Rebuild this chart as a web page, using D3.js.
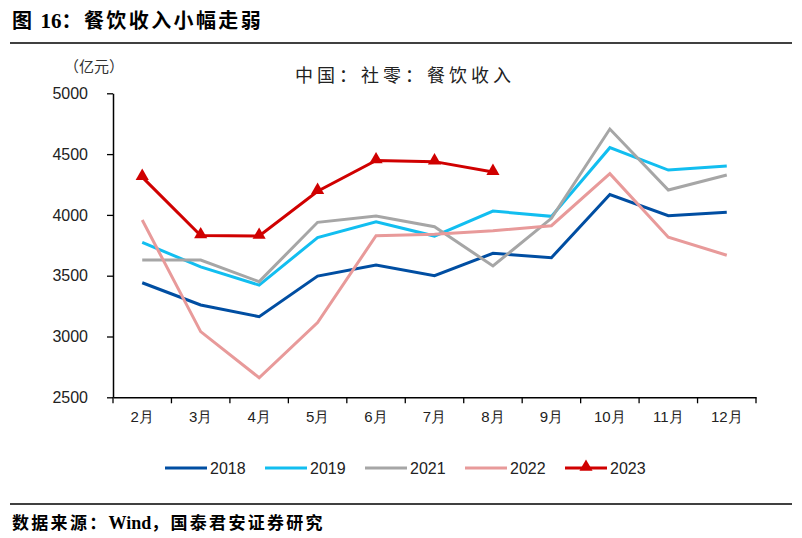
<!DOCTYPE html>
<html><head><meta charset="utf-8">
<script src="https://cdn.jsdelivr.net/npm/d3@7"></script>
<style>body{margin:0;background:#fff}svg{display:block}</style>
</head><body>
<svg id="c" width="802" height="538"></svg>
<script>
const months = ["2月","3月","4月","5月","6月","7月","8月","9月","10月","11月","12月"];
const yTicks = [2500,3000,3500,4000,4500,5000];
const s2018 = [3442,3259,3163,3497,3588,3500,3684,3648,4167,3993,4021];
const s2019 = [3775,3572,3423,3813,3944,3826,4032,3988,4553,4369,4402];
const s2021 = [3629,3629,3451,3939,3991,3903,3580,3972,4706,4205,4328];
const s2022 = [3958,3040,2661,3114,3829,3840,3870,3911,4339,3816,3668];
const s2023 = [4311,3830,3826,4195,4447,4438,4352];
const seriesNames = ["2018","2019","2021","2022","2023"];
const colors = ["#004EA2","#12BEF0","#A6A6A6","#E89A9A","#D00000"];
const series = [s2018,s2019,s2021,s2022,s2023];

const svg = d3.select("#c");
const font = "Liberation Sans, Arial, sans-serif";
const serif = "'Liberation Serif', 'Times New Roman', serif";
const cjk = "'Noto Sans CJK SC', sans-serif";

// header
const ht = svg.append("text").attr("x",12).attr("y",28).attr("font-weight","bold").attr("font-size",20).attr("fill","#000");
ht.append("tspan").attr("font-family",cjk).attr("letter-spacing",2).text("图 ");
ht.append("tspan").attr("font-family",serif).attr("font-size",21).text("16");
ht.append("tspan").attr("font-family",cjk).attr("letter-spacing",2.4).text("：餐饮收入小幅走弱");
svg.append("line").attr("x1",10).attr("x2",792).attr("y1",43).attr("y2",43).attr("stroke","#000").attr("stroke-width",1.3);
svg.append("line").attr("x1",10).attr("x2",792).attr("y1",504).attr("y2",504).attr("stroke","#000").attr("stroke-width",1.3);
const ft = svg.append("text").attr("x",12).attr("y",529).attr("font-weight","bold").attr("font-size",17).attr("fill","#000");
ft.append("tspan").attr("font-family",cjk).attr("letter-spacing",2.3).text("数据来源：");
ft.append("tspan").attr("font-family",serif).attr("font-size",18).text("Wind");
ft.append("tspan").attr("font-family",cjk).attr("letter-spacing",2.3).text("，国泰君安证券研究");

svg.append("text").attr("x",64).attr("y",72).attr("font-family",cjk).attr("font-size",15).attr("fill","#333").text("（亿元）");
svg.append("text").attr("x",405).attr("y",82).attr("text-anchor","middle").attr("font-family",cjk)
  .attr("font-size",18).attr("letter-spacing",4).attr("fill","#222").text("中国：社零：餐饮收入");

const x = d3.scaleBand().domain(months).range([113,756]);
const y = d3.scaleLinear().domain([2500,5000]).range([397.3,93.3]);

// y axis
const ya = svg.append("g").attr("transform","translate(113,0)")
  .call(d3.axisLeft(y).tickValues(yTicks).tickSize(6).tickSizeOuter(0).tickPadding(19).tickFormat(d3.format("d")));
ya.select(".domain").attr("stroke","#000").attr("stroke-width",1.5);
ya.selectAll(".tick line").attr("stroke","#000").attr("stroke-width",1.3);
ya.selectAll("text").attr("font-family",font).attr("font-size",16).attr("fill","#222");

// x axis
const xa = svg.append("g").attr("transform","translate(0,397.3)")
  .call(d3.axisBottom(x).tickSize(0).tickPadding(14));
xa.select(".domain").attr("stroke","#000").attr("stroke-width",1.5);
xa.selectAll("text").attr("font-family",font).attr("font-size",15).attr("fill","#222");
const bounds = months.map(m=>x(m)).concat([x(months[months.length-1])+x.bandwidth()]);
xa.selectAll(".sep").data(bounds).enter().append("line").attr("class","sep")
  .attr("x1",d=>d).attr("x2",d=>d).attr("y1",0).attr("y2",6).attr("stroke","#000").attr("stroke-width",1.3);

const cx = i => x(months[i]) + x.bandwidth()/2;
const line = d3.line().x((d,i)=>cx(i)).y(d=>y(d));
series.forEach((s,k)=>{
  svg.append("path").datum(s).attr("d",line).attr("fill","none").attr("stroke",colors[k])
    .attr("stroke-width",3).attr("stroke-linejoin","miter");
});
const tri = d3.symbol().type(d3.symbolTriangle).size(75);
svg.selectAll(".mk").data(s2023).enter().append("path").attr("class","mk")
  .attr("d",tri).attr("transform",(d,i)=>`translate(${cx(i)},${y(d)-1})`).attr("fill",colors[4]);

// legend
const lx = [165,265,365,465,565];
const ly = 468;
seriesNames.forEach((n,k)=>{
  svg.append("line").attr("x1",lx[k]).attr("x2",lx[k]+42).attr("y1",ly).attr("y2",ly)
    .attr("stroke",colors[k]).attr("stroke-width",3);
  if(k===4) svg.append("path").attr("d",tri).attr("transform",`translate(${lx[k]+21},${ly-1})`).attr("fill",colors[k]);
  svg.append("text").attr("x",lx[k]+45).attr("y",ly+6).attr("font-family",font).attr("font-size",16)
    .attr("fill","#222").text(n);
});
</script>
</body></html>
